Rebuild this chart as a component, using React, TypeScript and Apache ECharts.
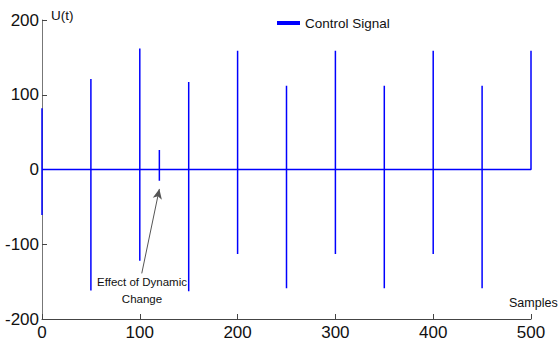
import React, { useEffect, useRef } from "react";
import * as echarts from "echarts";

// Spike positions (sample index) and the signal's peak / trough at each
const spikeSamples = [0, 50, 100, 120, 150, 200, 250, 300, 350, 400, 450, 500];
const spikeHigh = [82, 121, 162, 26, 117, 159, 112, 159, 112, 159, 112, 159];
const spikeLow = [-61, -162, -122, -15, -163, -113, -159, -113, -159, -113, -159, 0];

const xTicks = [0, 100, 200, 300, 400, 500];
const yTicks = [-200, -100, 0, 100, 200];

// annotation arrow (data coordinates)
const arrowFrom = [102, -139];
const arrowTo = [120, -26];

const FONT = "'Liberation Sans', Arial, sans-serif";

export default function App() {
  const ref = useRef<HTMLDivElement>(null);
  useEffect(() => {
    if (!ref.current) return;
    const chart = echarts.init(ref.current, null, { renderer: "svg" });
    const path: number[][] = [];
    spikeSamples.forEach((s, i) => {
      if (i > 0) path.push([s, 0]);
      path.push([s, spikeHigh[i]]);
      if (i < spikeSamples.length - 1) {
        path.push([s, spikeLow[i]]);
        path.push([s, 0]);
      }
    });
    chart.setOption({
      animation: false,
      backgroundColor: "#fff",
      grid: { left: 42, right: 29, top: 20, bottom: 28, containLabel: false, outerBoundsMode: "none" },
      legend: {
        left: 272,
        top: 11,
        icon: "rect",
        itemWidth: 23,
        itemHeight: 4,
        itemGap: 5,
        textStyle: { fontFamily: FONT, fontSize: 13.5, color: "#111" },
        data: ["Control Signal"],
      },
      xAxis: {
        type: "value",
        min: 0,
        max: 500,
        interval: 100,
        name: "Samples",
        nameLocation: "end",
        nameGap: 0,
        nameTextStyle: {
          fontFamily: FONT,
          fontSize: 12.5,
          color: "#111",
          align: "left",
          verticalAlign: "bottom",
          padding: [0, 0, 10, -22],
        },
        axisLine: { show: true, onZero: false, lineStyle: { color: "#444", width: 1 } },
        axisTick: { show: true, inside: true, length: 5, lineStyle: { color: "#444" } },
        axisLabel: {
          fontFamily: FONT,
          fontSize: 17,
          color: "#111",
          margin: 5,
          formatter: (v: number) => (xTicks.includes(v) ? String(v) : ""),
        },
        splitLine: { show: false },
      },
      yAxis: {
        type: "value",
        min: -200,
        max: 200,
        interval: 100,
        name: "U(t)",
        nameLocation: "end",
        nameGap: 0,
        nameTextStyle: {
          fontFamily: FONT,
          fontSize: 13.5,
          color: "#111",
          align: "left",
          verticalAlign: "bottom",
          padding: [0, 0, -2, 9],
        },
        axisLine: { show: true, onZero: false, lineStyle: { color: "#777", width: 1 } },
        axisTick: { show: true, inside: true, length: 5, lineStyle: { color: "#444" } },
        axisLabel: {
          fontFamily: FONT,
          fontSize: 17,
          color: "#111",
          margin: 3,
          formatter: (v: number) => (yTicks.includes(v) ? String(v) : ""),
        },
        splitLine: { show: false },
      },
      series: [
        {
          name: "Control Signal",
          type: "line",
          data: path,
          showSymbol: false,
          symbol: "none",
          color: "#0000ff",
          lineStyle: { color: "#0000ff", width: 1.5 },
          markLine: {
            silent: true,
            symbol: ["none", "arrow"],
            symbolSize: [7, 10],
            label: { show: false },
            lineStyle: { color: "#555", width: 1, type: "solid" },
            data: [[{ coord: arrowFrom }, { coord: arrowTo }]],
          },
        },
      ],
      graphic: [
        {
          type: "text",
          x: 142,
          y: 273,
          style: {
            text: "Effect of Dynamic\nChange",
            fontFamily: FONT,
            fontSize: 11.5,
            lineHeight: 17,
            align: "center",
            verticalAlign: "top",
            fill: "#111",
          },
        },
      ],
    });
    return () => chart.dispose();
  }, []);
  return (
    <div
      ref={ref}
      style={{ position: "fixed", left: 0, top: 0, width: 560, height: 347, background: "#fff" }}
    />
  );
}
